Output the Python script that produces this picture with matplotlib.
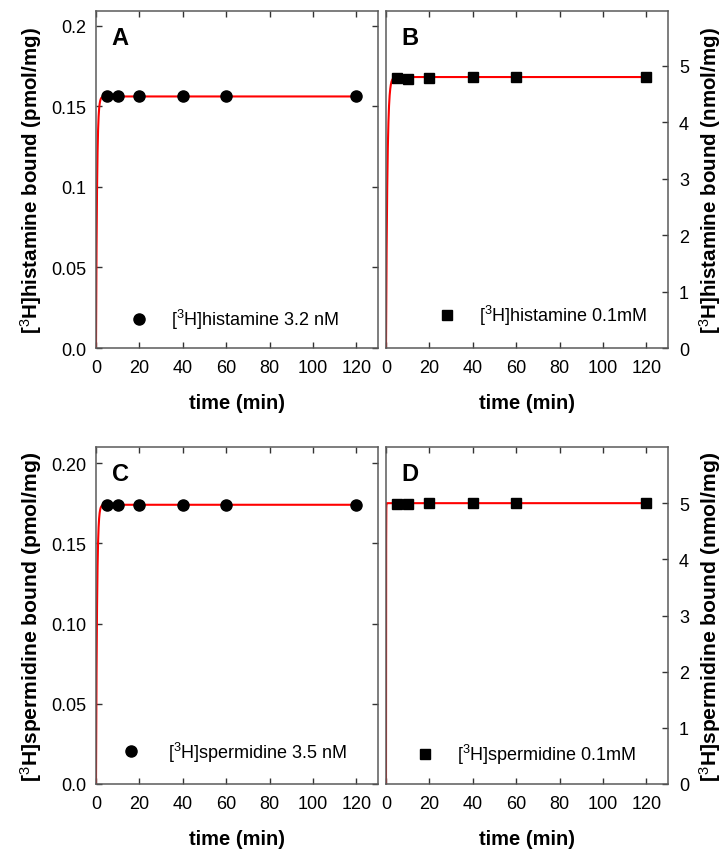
import numpy as np
import matplotlib
matplotlib.use("Agg")
import matplotlib.pyplot as plt

plt.rcParams["font.family"] = ["Liberation Sans", "DejaVu Sans"]
plt.rcParams["mathtext.fontset"] = "custom"
plt.rcParams["mathtext.rm"] = "Liberation Sans"
plt.rcParams["mathtext.it"] = "Liberation Sans"
plt.rcParams["mathtext.bf"] = "Liberation Sans:bold"

# ---------------- datos ----------------
tiempo = [5, 10, 20, 40, 60, 120]

hist_nM = [0.156, 0.156, 0.156, 0.156, 0.156, 0.156]
hist_mM = [4.78, 4.77, 4.79, 4.80, 4.80, 4.80]
sperm_nM = [0.174, 0.174, 0.174, 0.174, 0.174, 0.174]
sperm_mM = [4.99, 4.99, 5.00, 5.00, 5.00, 5.00]

# parámetros del ajuste (asociación exponencial): Bmax, k
ajuste_A = (0.156, 2.1)
ajuste_B = (4.80, 1.6)
ajuste_C = (0.174, 2.1)
ajuste_D = (5.00, 25.0)

etiq_A = r"[$^{3}$H]histamine 3.2 nM"
etiq_B = r"[$^{3}$H]histamine 0.1mM"
etiq_C = r"[$^{3}$H]spermidine 3.5 nM"
etiq_D = r"[$^{3}$H]spermidine 0.1mM"

ylab_hist_p = r"[$^{3}$H]histamine bound (pmol/mg)"
ylab_hist_n = r"[$^{3}$H]histamine bound (nmol/mg)"
ylab_sperm_p = r"[$^{3}$H]spermidine bound (pmol/mg)"
ylab_sperm_n = r"[$^{3}$H]spermidine bound (nmol/mg)"

W, H = 727, 853
fig = plt.figure(figsize=(W / 100, H / 100), dpi=100)


def caja(l, t, r, b):
    return fig.add_axes([l / W, (H - b) / H, (r - l) / W, (b - t) / H])


gris = "#5a5a5a"


def panel(ax, datos, ajuste, marca, letra, etiq, ylab, derecha, ylim,
          yticks, ylabels, leg_x, leg_y, gap, ylab_fs):
    x = np.linspace(0, 120, 3000)
    bmax, k = ajuste
    ax.plot(x, bmax * (1 - np.exp(-k * x)), color="#ff0000", lw=1.5, zorder=2)
    ax.plot(tiempo, datos, marca, color="black", ms=8 if marca == "o" else 7.5,
            ls="none", label=etiq, zorder=3)
    ax.set_xlim(0, 130)
    ax.set_ylim(*ylim)
    ax.set_xticks([0, 20, 40, 60, 80, 100, 120])
    ax.set_yticks(yticks)
    for s in ax.spines.values():
        s.set_color(gris)
        s.set_linewidth(1.1)
    ax.tick_params(direction="in", length=4, width=1, color="#333333",
                   labelsize=13, top=True)
    ax.tick_params(axis="x", pad=8)
    if derecha:
        ax.yaxis.tick_right()
        ax.yaxis.set_label_position("right")
        ax.tick_params(axis="y", left=False, right=True, pad=8)
        ax.set_yticklabels(ylabels)
        ax.set_ylabel(ylab, fontsize=ylab_fs, fontweight="bold", labelpad=6,
                      rotation=90)
    else:
        ax.tick_params(axis="y", left=True, right=True, pad=7)
        ax.set_yticklabels(ylabels)
        ax.set_ylabel(ylab, fontsize=ylab_fs, fontweight="bold", labelpad=5)
    ax.set_xlabel("time (min)", fontsize=14.5, fontweight="bold", labelpad=12)
    ax.text(0.055, 0.955, letra, transform=ax.transAxes, fontsize=17,
            fontweight="bold", va="top", ha="left")
    ax.legend(loc="center left", bbox_to_anchor=(leg_x, leg_y), frameon=False,
              fontsize=13, handlelength=1.0, handletextpad=gap,
              borderpad=0, borderaxespad=0, numpoints=1)


axA = caja(96, 12, 378, 349)
axB = caja(386, 12, 668, 349)
axC = caja(96, 448, 378, 785)
axD = caja(386, 448, 668, 785)

panel(axA, hist_nM, ajuste_A, "o", "A", etiq_A, ylab_hist_p, False,
      (0, 0.209), [0, 0.05, 0.1, 0.15, 0.2], ["0.0", "0.05", "0.1", "0.15", "0.2"],
      0.12, 0.086, 1.3, 14.8)
panel(axB, hist_mM, ajuste_B, "s", "B", etiq_B, ylab_hist_n, True,
      (0, 5.97), [0, 1, 2, 3, 4, 5], ["0", "1", "2", "3", "4", "5"],
      0.183, 0.098, 1.28, 14.8)
panel(axC, sperm_nM, ajuste_C, "o", "C", etiq_C, ylab_sperm_p, False,
      (0, 0.21), [0, 0.05, 0.10, 0.15, 0.20], ["0.0", "0.05", "0.10", "0.15", "0.20"],
      0.091, 0.096, 1.55, 15.2)
panel(axD, sperm_mM, ajuste_D, "s", "D", etiq_D, ylab_sperm_n, True,
      (0, 6.0), [0, 1, 2, 3, 4, 5], ["0", "1", "2", "3", "4", "5"],
      0.105, 0.089, 1.32, 15.2)

fig.savefig("out.png", dpi=100)
